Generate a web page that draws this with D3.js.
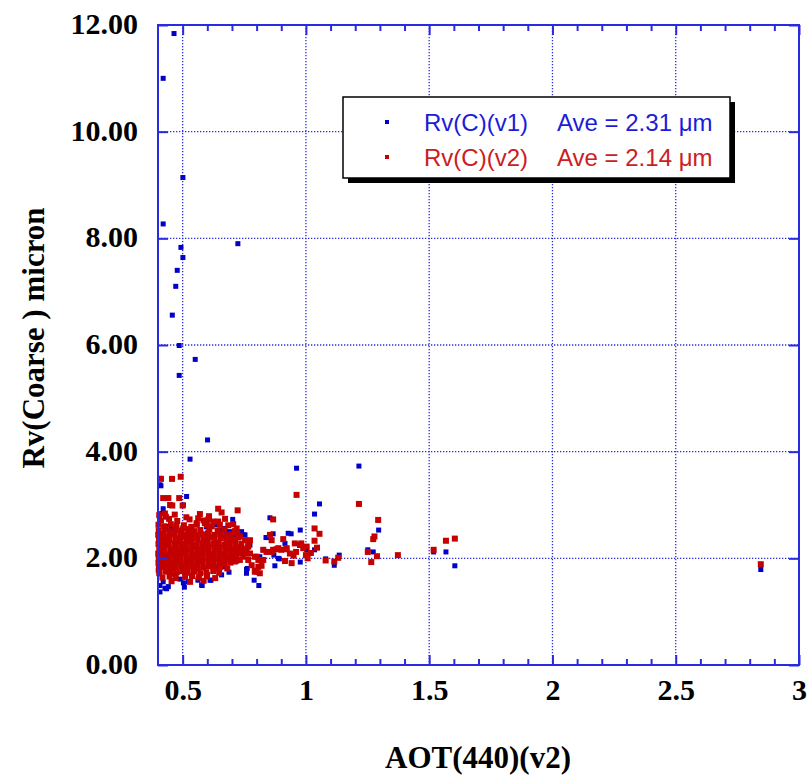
<!DOCTYPE html>
<html>
<head>
<meta charset="utf-8">
<script src="https://cdn.jsdelivr.net/npm/d3@7"></script>
<style>
  body { margin: 0; background: #fff; }
  svg { display: block; }
</style>
</head>
<body>
<svg id="chart" width="808" height="776"></svg>
<script>
// axis ticks
var xMajorTicks = [0.5, 1, 1.5, 2, 2.5, 3];
var yTicks = [0, 2, 4, 6, 8, 10, 12];

// legend
var seriesNames = ["Rv(C)(v1)", "Rv(C)(v2)"];
var seriesAverages = ["Ave = 2.31 \u03bcm", "Ave = 2.14 \u03bcm"];

// Rv(C)(v1) : [AOT(440), Rv]
var v1Points = [
  [0.465,11.84],[0.421,11.00],[0.501,9.14],[0.421,8.27],[0.493,7.83],[0.724,7.90],
  [0.501,7.64],[0.478,7.40],[0.472,7.10],[0.458,6.56],[0.486,5.99],[0.551,5.73],
  [0.486,5.43],[0.601,4.22],[0.530,3.86],[0.962,3.69],[1.215,3.73],[1.055,3.02],
  [1.035,2.83],[1.295,2.53],[0.977,2.53],[0.940,2.46],[1.035,2.16],[1.251,2.16],
  [1.273,2.12],[1.080,1.99],[1.135,2.06],[1.115,1.87],[0.977,1.93],[1.518,2.12],
  [1.568,2.12],[1.604,1.86],[2.845,1.79],
  [0.412,3.36],[0.408,3.50],[0.408,3.38],[0.516,3.16],[0.503,3.00],[0.421,2.93],
  [0.415,2.84],[0.703,2.73],[0.854,2.76],[0.867,2.46],[0.840,2.39],[0.658,2.53],
  [0.678,2.50],[0.597,2.59],[0.638,2.63],[0.746,2.44],[0.773,2.25],[0.827,2.16],
  [0.874,1.86],[0.892,1.99],[0.759,1.79],[0.790,1.59],[0.809,1.49],[0.688,1.74],
  [0.615,1.59],[0.579,1.49],[0.562,1.59],[0.503,1.54],[0.507,1.46],[0.489,1.61],
  [0.435,1.43],[0.408,1.49],[0.421,1.56],[0.428,1.44],[0.442,1.47],[0.408,1.37],
  [0.523,1.56],[0.563,1.63],[0.611,1.59],[0.577,1.50],[0.516,1.75],[0.469,1.81],
  [0.638,1.84],[1.003,2.16],[0.870,2.06],[0.813,2.03],[0.732,2.19],[0.838,2.39],
  [0.915,2.28],[0.928,2.47],[0.888,2.00],[0.762,1.81],[0.759,1.72],[0.712,2.44],
  [0.739,2.50],[0.753,2.44],[0.672,2.56],[0.692,2.50],[0.665,1.84],[0.658,1.69],
  [0.401,1.78],[0.405,1.71],[0.489,2.34],[0.510,2.16],[0.600,2.34],[0.403,2.45],
  [0.402,2.35],[0.404,2.26],[0.431,2.60],[0.452,2.56],[0.470,1.69],[0.540,1.66],
  [0.600,1.70],[0.700,2.05],[0.720,1.95],[0.560,2.05],[0.450,2.10],[0.530,2.45],
  [0.640,2.20],[0.680,2.30],[0.480,1.95],[0.620,1.90],[0.580,2.25],[0.430,2.00]
];

// Rv(C)(v2) : [AOT(440), Rv]
var v2Points = [
  [0.412,3.49],[0.457,3.49],[0.492,3.53],[0.421,3.13],[0.442,3.13],[0.486,3.13],
  [0.458,2.99],[0.500,2.99],[0.449,3.00],[0.428,2.84],[0.570,2.83],[0.563,2.75],
  [0.607,2.79],[0.604,2.73],[0.644,2.93],[0.658,2.86],[0.723,2.90],[0.651,2.63],
  [0.719,2.56],[0.557,2.63],[0.530,2.50],[0.502,2.56],[0.867,2.73],[0.854,2.44],
  [0.861,2.34],[0.908,2.36],[0.962,3.19],[1.215,3.02],[1.293,2.72],[1.278,2.41],
  [1.273,2.36],[1.035,2.56],[1.055,2.46],[1.035,2.33],[0.981,2.28],[1.003,2.22],
  [1.251,2.12],[1.288,2.04],[1.265,1.93],[1.373,2.06],[1.080,1.96],[1.131,2.01],
  [1.115,1.94],[1.007,2.00],[1.518,2.16],[1.568,2.33],[1.604,2.37],[2.845,1.89],
  [0.557,2.66],[0.590,2.66],[0.644,2.69],
  [0.935,2.09],[0.955,2.28],[0.976,2.25],[0.989,2.19],[0.942,1.91],[0.920,2.17],
  [0.900,2.16],[0.881,2.17],[0.861,2.12],[0.840,2.12],[0.800,2.03],[0.807,1.97],
  [0.800,1.75],[0.793,1.77],[0.820,1.86],[0.827,1.97],[0.773,2.34],[0.766,2.22],
  [0.759,2.09],[0.766,1.97],[0.827,2.16],[0.867,2.16],[0.888,2.19],[0.922,2.19],
  [0.793,2.03],[0.780,1.87],[0.807,1.84],[0.793,1.75],[0.813,1.72],[0.732,1.97],
  [0.746,2.03],[0.705,2.34],[0.732,2.41],[0.753,2.34],[0.766,2.25],[0.759,2.16],
  [0.773,2.09],[0.915,1.95],[0.950,2.05],[0.960,2.12],[1.000,2.06],[1.020,2.10],
  [1.045,2.20],
  [0.405,2.81],[0.432,2.78],[0.468,2.82],[0.515,2.77],
  [0.412,2.71],[0.445,2.74],[0.478,2.70],[0.528,2.73],[0.585,2.71],[0.625,2.69],[0.672,2.74],
  [0.402,2.63],[0.425,2.60],[0.452,2.64],[0.475,2.61],[0.505,2.62],[0.535,2.59],[0.598,2.63],
  [0.618,2.60],[0.685,2.62],[0.705,2.64],
  [0.403,2.52],[0.428,2.55],[0.448,2.51],[0.472,2.54],[0.495,2.52],[0.522,2.55],[0.548,2.51],
  [0.572,2.53],[0.608,2.55],[0.642,2.52],[0.668,2.54],[0.712,2.51],
  [0.401,2.44],[0.422,2.46],[0.445,2.43],[0.466,2.45],[0.490,2.47],[0.512,2.44],[0.535,2.46],
  [0.558,2.43],[0.582,2.45],[0.603,2.47],[0.628,2.44],[0.652,2.46],[0.676,2.43],[0.698,2.45],[0.722,2.47],
  [0.404,2.36],[0.426,2.38],[0.447,2.35],[0.471,2.37],[0.493,2.39],[0.516,2.36],[0.538,2.38],
  [0.561,2.35],[0.585,2.37],[0.607,2.39],[0.630,2.36],[0.655,2.38],[0.678,2.35],[0.697,2.37],[0.726,2.39],
  [0.402,2.27],[0.423,2.29],[0.444,2.26],[0.468,2.28],[0.489,2.30],[0.511,2.27],[0.534,2.29],
  [0.556,2.26],[0.579,2.28],[0.601,2.30],[0.624,2.27],[0.646,2.29],[0.669,2.26],[0.691,2.28],
  [0.714,2.30],[0.738,2.27],
  [0.405,2.18],[0.427,2.20],[0.450,2.17],[0.472,2.19],[0.494,2.21],[0.517,2.18],[0.539,2.20],
  [0.562,2.17],[0.584,2.19],[0.606,2.21],[0.629,2.18],[0.651,2.20],[0.674,2.17],[0.696,2.19],
  [0.719,2.21],[0.742,2.18],
  [0.401,2.09],[0.424,2.11],[0.446,2.08],[0.469,2.10],[0.491,2.12],[0.513,2.09],[0.536,2.11],
  [0.558,2.08],[0.580,2.10],[0.603,2.12],[0.626,2.09],[0.648,2.11],[0.671,2.08],[0.693,2.10],
  [0.716,2.12],[0.737,2.09],
  [0.403,2.00],[0.425,2.02],[0.448,1.99],[0.470,2.01],[0.492,2.03],[0.515,2.00],[0.537,2.02],
  [0.560,1.99],[0.582,2.01],[0.605,2.03],[0.627,2.00],[0.650,2.02],[0.672,1.99],[0.695,2.01],[0.718,2.03],
  [0.402,1.91],[0.424,1.93],[0.447,1.90],[0.469,1.92],[0.491,1.94],[0.514,1.91],[0.537,1.93],
  [0.559,1.90],[0.581,1.92],[0.604,1.94],[0.626,1.91],[0.649,1.93],[0.671,1.90],[0.694,1.92],[0.712,1.94],
  [0.404,1.82],[0.427,1.84],[0.449,1.81],[0.472,1.83],[0.494,1.85],[0.517,1.82],[0.539,1.84],
  [0.562,1.81],[0.585,1.83],[0.607,1.85],[0.630,1.82],[0.652,1.84],[0.681,1.81],
  [0.405,1.73],[0.430,1.75],[0.452,1.72],[0.476,1.74],[0.498,1.76],[0.521,1.73],[0.546,1.75],
  [0.571,1.72],[0.596,1.74],[0.624,1.76],[0.648,1.73],
  [0.418,1.64],[0.447,1.66],[0.472,1.63],[0.510,1.65],[0.538,1.67],[0.566,1.64],[0.598,1.66],[0.632,1.63],
  [0.455,1.57],[0.530,1.56],[0.585,1.58]
];

var axisColor = "#2a2ae0";
var blue = "#0000c8";
var red = "#c40000";

var svg = d3.select("#chart");
var margin = {top: 25, right: 9, bottom: 111, left: 158};
var width = 808 - margin.left - margin.right;
var height = 776 - margin.top - margin.bottom;

var g = svg.append("g")
    .attr("transform", "translate(" + margin.left + "," + margin.top + ")");

var x = d3.scaleLinear().domain([0.4, 3]).range([0, width]);
var y = d3.scaleLinear().domain([0, 12]).range([height, 0]);

var xMinorTicks = d3.range(5, 31).map(function (d) { return d / 10; })
    .filter(function (d) { return xMajorTicks.indexOf(d) < 0; });

// dotted grid
g.append("g").selectAll("line")
    .data(xMajorTicks.slice(0, -1))
    .enter().append("line")
    .attr("x1", function (d) { return x(d); })
    .attr("x2", function (d) { return x(d); })
    .attr("y1", 0)
    .attr("y2", height)
    .attr("stroke", axisColor)
    .attr("stroke-width", 1.3)
    .attr("stroke-dasharray", "1.3,1.7");

g.append("g").selectAll("line")
    .data(yTicks.slice(1, -1))
    .enter().append("line")
    .attr("x1", 0)
    .attr("x2", width)
    .attr("y1", function (d) { return y(d); })
    .attr("y2", function (d) { return y(d); })
    .attr("stroke", axisColor)
    .attr("stroke-width", 1.3)
    .attr("stroke-dasharray", "1.3,1.7");

// points: v1 under v2
g.append("g").selectAll("rect")
    .data(v1Points)
    .enter().append("rect")
    .attr("x", function (d) { return x(d[0]) - 2.5; })
    .attr("y", function (d) { return y(d[1]) - 2.5; })
    .attr("width", 5)
    .attr("height", 5)
    .attr("fill", blue);

g.append("g").selectAll("rect")
    .data(v2Points)
    .enter().append("rect")
    .attr("x", function (d) { return x(d[0]) - 3; })
    .attr("y", function (d) { return y(d[1]) - 3; })
    .attr("width", 6)
    .attr("height", 6)
    .attr("fill", red);

// axes, ticks pointing inward
function styleAxis(sel) {
    sel.select(".domain").remove();
    sel.selectAll(".tick line").attr("stroke", axisColor).attr("stroke-width", 2);
}

var bottomMajor = g.append("g")
    .attr("transform", "translate(0," + height + ")")
    .call(d3.axisBottom(x).tickValues(xMajorTicks).tickSize(-10).tickFormat(d3.format("")));
styleAxis(bottomMajor);
bottomMajor.selectAll(".tick text")
    .attr("y", 35)
    .attr("dy", 0)
    .attr("fill", "#000")
    .style("font-family", "'Liberation Serif', 'Times New Roman', serif")
    .style("font-weight", "bold")
    .style("font-size", "30px");

var bottomMinor = g.append("g")
    .attr("transform", "translate(0," + height + ")")
    .call(d3.axisBottom(x).tickValues(xMinorTicks).tickSize(-6).tickFormat(""));
styleAxis(bottomMinor);

var topMajor = g.append("g")
    .call(d3.axisTop(x).tickValues(xMajorTicks).tickSize(-10).tickFormat(""));
styleAxis(topMajor);
var topMinor = g.append("g")
    .call(d3.axisTop(x).tickValues(xMinorTicks).tickSize(-6).tickFormat(""));
styleAxis(topMinor);

var left = g.append("g")
    .call(d3.axisLeft(y).tickValues(yTicks).tickSize(-10).tickFormat(d3.format(".2f")));
styleAxis(left);
left.selectAll(".tick text")
    .attr("x", -20)
    .attr("dy", "0.28em")
    .attr("fill", "#000")
    .style("font-family", "'Liberation Serif', 'Times New Roman', serif")
    .style("font-weight", "bold")
    .style("font-size", "30px");

var right = g.append("g")
    .attr("transform", "translate(" + width + ",0)")
    .call(d3.axisRight(y).tickValues(yTicks).tickSize(-10).tickFormat(""));
styleAxis(right);

// frame
g.append("rect")
    .attr("width", width)
    .attr("height", height)
    .attr("fill", "none")
    .attr("stroke", axisColor)
    .attr("stroke-width", 2);

// axis titles
svg.append("text")
    .attr("x", 478)
    .attr("y", 768)
    .attr("text-anchor", "middle")
    .style("font-family", "'Liberation Serif', 'Times New Roman', serif")
    .style("font-weight", "bold")
    .style("font-size", "31px")
    .text("AOT(440)(v2)");

svg.append("text")
    .attr("transform", "translate(44,338) rotate(-90)")
    .attr("text-anchor", "middle")
    .style("font-family", "'Liberation Serif', 'Times New Roman', serif")
    .style("font-weight", "bold")
    .style("font-size", "31px")
    .text("Rv(Coarse ) micron");

// legend
var legend = svg.append("g").attr("transform", "translate(343,97)");
legend.append("rect")
    .attr("x", 5).attr("y", 5)
    .attr("width", 387).attr("height", 81)
    .attr("fill", "#000");
legend.append("rect")
    .attr("width", 387).attr("height", 81)
    .attr("fill", "#fff")
    .attr("stroke", "#000")
    .attr("stroke-width", 1.5);

var legendColors = ["#1c1cd8", "#cc2020"];
var markerColors = [blue, red];
var row = legend.selectAll("g.row")
    .data(seriesNames)
    .enter().append("g")
    .attr("class", "row")
    .attr("transform", function (d, i) { return "translate(0," + (25 + i * 35) + ")"; });

row.append("rect")
    .attr("x", 42).attr("y", -2)
    .attr("width", 4).attr("height", 4)
    .attr("fill", function (d, i) { return markerColors[i]; });

row.append("text")
    .attr("x", 81)
    .attr("y", 9)
    .attr("fill", function (d, i) { return legendColors[i]; })
    .style("font-family", "'Liberation Sans', Arial, sans-serif")
    .style("font-size", "24px")
    .text(function (d) { return d; });

row.append("text")
    .attr("x", 214)
    .attr("y", 9)
    .attr("fill", function (d, i) { return legendColors[i]; })
    .style("font-family", "'Liberation Sans', Arial, sans-serif")
    .style("font-size", "24px")
    .text(function (d, i) { return seriesAverages[i]; });
</script>
</body>
</html>
